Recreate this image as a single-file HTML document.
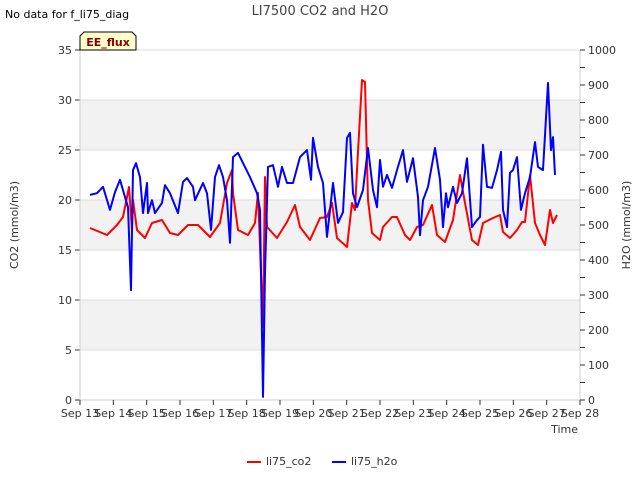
<!DOCTYPE html>
<html><head><meta charset="utf-8"><style>
body{margin:0;background:#fff;font-family:"Liberation Sans","DejaVu Sans",sans-serif}
svg text{font-family:"DejaVu Sans","Liberation Sans",sans-serif}
</style></head><body>
<svg id="c" width="640" height="480" xmlns="http://www.w3.org/2000/svg">
<rect width="640" height="480" fill="#fff"/>
<g id="grid"></g>
<g id="axes"></g>
<g id="series"></g>
<text x="320" y="15" text-anchor="middle" font-size="13" fill="#444">LI7500 CO2 and H2O</text>
<text x="5" y="18" font-size="11" fill="#000">No data for f_li75_diag</text>
<g>
<path d="M80,50 L80,36 L84,32 L132,32 L136,36 L136,50 Z" fill="#ffffcc" stroke="#000" stroke-width="1"/>
<text x="108" y="46" text-anchor="middle" font-size="11" font-weight="bold" fill="#8b0000">EE_flux</text>
</g>
<text x="18" y="225" transform="rotate(-90 18 225)" text-anchor="middle" font-size="11" fill="#333">CO2 (mmol/m3)</text>
<text x="630" y="225" transform="rotate(-90 630 225)" text-anchor="middle" font-size="11" fill="#333">H2O (mmol/m3)</text>
<text x="578" y="433" text-anchor="end" font-size="11" fill="#333">Time</text>
<g>
<line x1="247" y1="462" x2="261" y2="462" stroke="#f00" stroke-width="2"/>
<text x="266" y="465" font-size="11" fill="#333">li75_co2</text></g>
<g>
<line x1="332" y1="462" x2="346" y2="462" stroke="#00f" stroke-width="2"/>
<text x="351" y="465" font-size="11" fill="#333">li75_h2o</text></g>
</svg>
<script>
const xTickLabels=["Sep 13","Sep 14","Sep 15","Sep 16","Sep 17","Sep 18","Sep 19","Sep 20","Sep 21","Sep 22","Sep 23","Sep 24","Sep 25","Sep 26","Sep 27","Sep 28"];
const leftTicks=[0,5,10,15,20,25,30,35];
const rightTicks=[0,100,200,300,400,500,600,700,800,900,1000];
const h2oT=[0.30,0.51,0.69,0.90,1.05,1.20,1.35,1.44,1.53,1.59,1.68,1.80,1.89,2.01,2.04,2.16,2.25,2.46,2.55,2.70,2.94,3.09,3.21,3.39,3.45,3.69,3.81,3.93,4.05,4.17,4.29,4.41,4.50,4.59,4.74,4.89,5.10,5.31,5.40,5.49,5.55,5.64,5.79,5.94,6.06,6.21,6.39,6.60,6.81,6.93,6.99,7.14,7.29,7.41,7.59,7.74,7.89,8.01,8.10,8.19,8.31,8.49,8.64,8.79,8.91,9.00,9.09,9.21,9.36,9.51,9.69,9.81,9.99,10.14,10.20,10.29,10.44,10.65,10.80,10.89,10.98,11.04,11.19,11.31,11.46,11.61,11.76,11.91,12.00,12.09,12.21,12.36,12.51,12.63,12.69,12.81,12.90,12.99,13.11,13.23,13.35,13.50,13.65,13.74,13.89,14.04,14.13,14.19,14.25];
const h2oV=[586,591,609,543,594,629,580,551,314,657,677,637,534,620,534,571,534,563,614,591,534,623,634,609,571,620,591,486,637,671,637,571,449,694,706,677,637,591,543,9,363,666,671,609,666,620,620,694,714,629,749,666,620,466,620,506,537,749,763,591,551,600,720,600,551,686,609,643,606,657,714,623,691,580,471,571,609,720,629,494,591,551,609,563,591,691,494,514,523,729,609,606,657,709,543,494,649,657,694,543,591,637,737,666,657,906,714,751,643];
const co2T=[0.30,0.81,1.11,1.29,1.47,1.56,1.59,1.71,1.95,2.16,2.46,2.70,2.94,3.24,3.54,3.90,4.20,4.41,4.56,4.59,4.74,5.04,5.25,5.34,5.49,5.55,5.61,5.91,6.21,6.45,6.60,6.90,7.20,7.41,7.56,7.71,8.01,8.16,8.25,8.31,8.46,8.55,8.64,8.76,9.00,9.09,9.36,9.51,9.75,9.90,10.11,10.29,10.56,10.71,10.95,11.19,11.40,11.55,11.76,11.94,12.09,12.39,12.60,12.69,12.90,13.11,13.26,13.35,13.50,13.65,13.80,13.95,14.10,14.19,14.31];
const co2V=[17.2,16.5,17.5,18.3,21.3,17.0,20.0,17.0,16.2,17.7,18.0,16.7,16.5,17.5,17.5,16.3,17.7,21.7,23.0,20.7,17.0,16.5,17.7,20.7,7.3,22.3,17.3,16.2,17.8,19.5,17.3,16.0,18.2,18.3,19.7,16.2,15.3,19.7,19.0,23.0,32.0,31.8,20.0,16.7,16.0,17.3,18.3,18.3,16.5,16.0,17.3,17.5,19.5,16.5,15.8,18.0,22.5,19.7,16.0,15.5,17.7,18.2,18.5,16.8,16.2,17.0,17.8,17.8,22.5,17.7,16.5,15.5,19.0,17.7,18.5];

const X0=80,X1=580,Y0=400,Y1=50;
const xs=d=>X0+d*(X1-X0)/15;
const yl=v=>Y0-v*(Y0-Y1)/35;
const yr=v=>Y0-v*(Y0-Y1)/1000;
const NS="http://www.w3.org/2000/svg";
function mk(tag,attrs,parent){const e=document.createElementNS(NS,tag);for(const k in attrs)e.setAttribute(k,attrs[k]);parent.appendChild(e);return e;}
const grid=document.getElementById('grid'),axes=document.getElementById('axes'),ser=document.getElementById('series');
for(let i=0;i<leftTicks.length-1;i++){
  if(i%2===1){const r=mk('rect',{x:X0,y:yl(leftTicks[i+1]),width:X1-X0,height:yl(leftTicks[i])-yl(leftTicks[i+1]),fill:'#f2f2f2'},grid);
  
  }
}
leftTicks.forEach(v=>{
  const l=mk('line',{x1:X0,x2:X1,y1:yl(v),y2:yl(v),stroke:'#dcdcdc','stroke-width':1},grid);
  
  
  const tk=mk('line',{x1:X0-5,x2:X0,y1:yl(v),y2:yl(v),stroke:'#333'},axes);
  
  
  const t=mk('text',{x:X0-8,y:yl(v)+4,'text-anchor':'end','font-size':11,fill:'#333'},axes);t.textContent=v;
  
  
});
mk('line',{x1:X0,x2:X0,y1:Y1,y2:Y0,stroke:'#ccc'},axes);
mk('line',{x1:X1,x2:X1,y1:Y1,y2:Y0,stroke:'#ccc'},axes);
mk('line',{x1:X0,x2:X1,y1:Y0,y2:Y0,stroke:'#ccc'},axes);
for(let v=0;v<=1000;v+=50){
  const tk=mk('line',{x1:X1,x2:X1+5,y1:yr(v),y2:yr(v),stroke:'#333'},axes);
  
  
}
rightTicks.forEach(v=>{
  const t=mk('text',{x:X1+8,y:yr(v)+4,'font-size':11,fill:'#333'},axes);t.textContent=v;
  
  
});
xTickLabels.forEach((s,i)=>{
  const tk=mk('line',{x1:xs(i),x2:xs(i),y1:Y0,y2:Y0+5,stroke:'#333'},axes);
  
  
  const t=mk('text',{x:xs(i),y:Y0+17,'text-anchor':'middle','font-size':11,fill:'#333'},axes);t.textContent=s;
  
  
});
const pc=mk('polyline',{points:co2T.map((t,i)=>xs(t).toFixed(1)+','+yl(co2V[i]).toFixed(1)).join(' '),fill:'none',stroke:'#f00','stroke-width':2,'stroke-linejoin':'round'},ser);


const ph=mk('polyline',{points:h2oT.map((t,i)=>xs(t).toFixed(1)+','+yr(h2oV[i]).toFixed(1)).join(' '),fill:'none',stroke:'#00f','stroke-width':2,'stroke-linejoin':'round'},ser);


</script>
</body></html>
